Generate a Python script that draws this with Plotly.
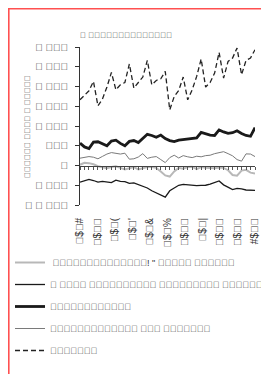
import numpy as np
import plotly.graph_objects as go

# --- data -----------------------------------------------------------------
quarter_index = list(range(40))

series_dashed = [1664, 1790, 1892, 2128, 1511, 1681, 1986, 2356, 1917, 2044,
                 2102, 2569, 1960, 2102, 2239, 2660, 2044, 2153, 2196, 2381,
                 1410, 1747, 1900, 2239, 1664, 1917, 2255, 2696, 1986, 2102,
                 2341, 2863, 2214, 2635, 2721, 2975, 2298, 2660, 2721, 2932]
series_thick = [565, 470, 430, 590, 600, 560, 500, 620, 640, 560,
                500, 610, 632, 581, 680, 790, 760, 715, 770, 680,
                630, 606, 640, 655, 667, 680, 700, 840, 800, 770,
                760, 900, 850, 815, 830, 880, 810, 760, 740, 960]
series_grey = [185, 200, 226, 210, 170, 230, 290, 327, 300, 290,
               312, 160, 170, 215, 300, 180, 210, 226, 150, 74,
               200, 260, 190, 250, 220, 200, 235, 220, 250, 260,
               300, 320, 350, 300, 245, 150, 110, 294, 290, 226]
series_light = [20, 70, 60, 30, -20, -50, -70, -40, -20, -60,
                -100, -70, -40, -100, -60, -40, -40, -60, -150, -250,
                -280, -150, -60, -80, -40, -30, -90, -40, -60, -60,
                -70, -50, -60, -120, -240, -260, -130, -110, -180, -200]
series_bottom = [-420, -380, -350, -380, -420, -400, -420, -435, -370, -400,
                 -410, -450, -440, -480, -530, -570, -640, -700, -750, -800,
                 -640, -560, -500, -480, -490, -510, -510, -505, -500, -470,
                 -420, -390, -490, -550, -610, -580, -590, -620, -630, -630]

# Text of the source uses glyphs that have no font coverage (shown as boxes)
X = "\ue000"

title_text = f"{X} " + X * 14
ytitle_text = X * 6 + " " + X * 4 + " " + X + " " + X * 5
legend_names = [
    " " + X * 14 + "! \" " + X * 5 + " " + X * 6,
    X + " " + X * 4 + " " + X * 10 + " " + X * 9 + " " + X * 6 + " " + X * 6,
    X * 12,
    X * 13 + " " + X * 3 + " " + X * 7,
    X * 7,
]
y_tickvals = [-1000, -500, 0, 500, 1000, 1500, 2000, 2500, 3000]
y_ticktext = [f"{X} {X} {X*3}", f"{X} {X*3}", X, X * 3, f"{X} {X*3}",
              f"{X} {X*3}", f"{X} {X*3}", f"{X} {X*3}", f"{X} {X*3}"]
x_ticktext = [f"{X}${X}#", f"{X}${X}{X}", f"{X}${X}(", f"{X}${X}'", f"{X}${X}&",
              f"{X}${X}%", f"{X}${X}{X}", f"{X}${X}|", f"{X}${X}{X}", f"{X}${X}{X}",
              f"#${X}{X}"]

# --- figure -----------------------------------------------------------------
W, H = 269, 374
L, R, T, Bm = 72, 22, 39, 177
pw, ph = W - L - R, H - T - Bm

def px_x(p):
    return (p - L) / pw

def px_y(p):
    return (H - Bm - p) / ph

text_color = "#333333"
font_family = "Liberation Sans, DejaVu Sans, sans-serif"

fig = go.Figure()
styles = [
    (series_light, dict(color="#b8b8b8", width=2), "x2"),
    (series_bottom, dict(color="#1a1a1a", width=1.3), "x"),
    (series_thick, dict(color="#1a1a1a", width=2.8), "x"),
    (series_grey, dict(color="#7a7a7a", width=1), "x"),
    (series_dashed, dict(color="#222222", width=1.3, dash="5px,3px"), "x"),
]
for i, ((vals, line, xa), name) in enumerate(zip(styles, legend_names)):
    fig.add_trace(go.Scatter(x=quarter_index, y=vals, mode="lines", line=line,
                             name=name, xaxis=xa, legendgroup=str(i)))

xr = [quarter_index[0], quarter_index[-1]]
fig.update_layout(
    width=W, height=H,
    margin=dict(l=L, r=R, t=T, b=Bm, autoexpand=False),
    paper_bgcolor="white", plot_bgcolor="white",
    font=dict(family=font_family, size=10, color=text_color),
    title=dict(text=title_text, x=L / W, xref="container", xanchor="left",
               y=1 - 27 / H, yref="container", yanchor="middle",
               font=dict(size=8, color=text_color)),
    showlegend=True,
    legend=dict(orientation="v", x=px_x(2), xanchor="left", y=px_y(240), yanchor="top",
                traceorder="grouped", tracegroupgap=3, font=dict(size=9, color=text_color),
                bgcolor="rgba(0,0,0,0)"),
    xaxis=dict(range=xr, tickmode="array",
               tickvals=list(np.linspace(quarter_index[0], quarter_index[-1], len(x_ticktext))),
               ticktext=x_ticktext, tickangle=-90, showline=False, ticks="",
               showgrid=False, zeroline=False, ticklabelstandoff=10),
    xaxis2=dict(range=xr, overlaying="x", anchor="free", position=0.25, side="bottom",
                tickmode="array", tickvals=quarter_index, ticks="outside", ticklen=3,
                tickcolor="#555555", showticklabels=False, showline=True,
                linecolor="#444444", linewidth=1, showgrid=False, zeroline=False),
    yaxis=dict(range=[-1000, 3000], tickmode="array", tickvals=y_tickvals, ticktext=y_ticktext,
               showline=True, linecolor="#333333", linewidth=1, ticks="outside", ticklen=4,
               tickcolor="#333333", showgrid=False, zeroline=False, ticklabelstandoff=5),
    annotations=[dict(text=ytitle_text, textangle=-90, xref="paper", yref="paper",
                      x=px_x(12.5), y=px_y(119), showarrow=False,
                      font=dict(size=8, color=text_color))],
    shapes=[dict(type="rect", xref="paper", yref="paper",
                 x0=px_x(0.8), x1=px_x(W + 10), y0=px_y(H + 10), y1=px_y(0.8),
                 line=dict(color="#ff5050", width=1.6))],
)

fig.write_html("out.html")
